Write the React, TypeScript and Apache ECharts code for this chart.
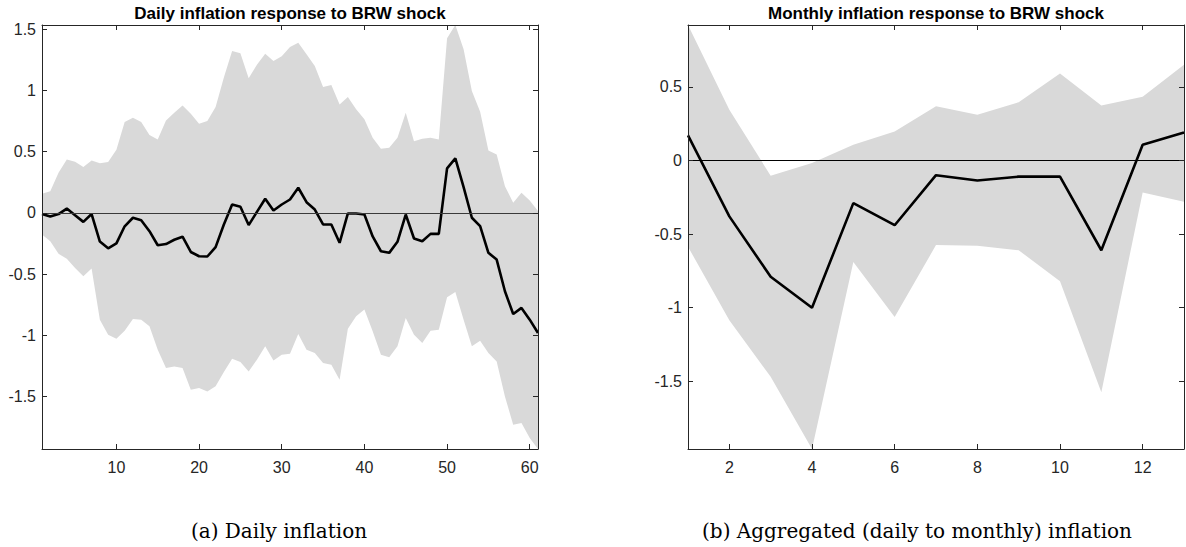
import { useEffect, useRef } from 'react'
import * as echarts from 'echarts'

// ── Daily IRF (horizon 1..61) ─────────────────────────────────────
const dailyDays = Array.from({ length: 61 }, (_, i) => i + 1)
const dailyMid = [
  -0.01, -0.03, -0.01, 0.035, -0.02, -0.074, -0.01, -0.235, -0.29, -0.25,
  -0.11, -0.04, -0.06, -0.15, -0.265, -0.255, -0.22, -0.195, -0.32, -0.355,
  -0.357, -0.28, -0.095, 0.068, 0.049, -0.1, 0.008, 0.115, 0.019, 0.068,
  0.109, 0.205, 0.087, 0.027, -0.095, -0.095, -0.245, -0.005, -0.005, -0.014,
  -0.193, -0.314, -0.327, -0.237, -0.014, -0.21, -0.232, -0.172, -0.172, 0.363,
  0.445, 0.21, -0.04, -0.109, -0.327, -0.382, -0.641, -0.827, -0.777, -0.873,
  -0.982,
]
const dailyUpper = [
  0.155, 0.177, 0.327, 0.436, 0.417, 0.374, 0.428, 0.406, 0.415, 0.515,
  0.742, 0.777, 0.742, 0.636, 0.6, 0.755, 0.818, 0.878, 0.81, 0.728,
  0.75, 0.865, 1.105, 1.323, 1.304, 1.1, 1.21, 1.3, 1.24, 1.28,
  1.356, 1.39, 1.296, 1.2, 1.028, 1.045, 0.886, 0.947, 0.846, 0.764,
  0.614, 0.524, 0.532, 0.614, 0.818, 0.586, 0.606, 0.614, 0.6, 1.427,
  1.535, 1.337, 0.996, 0.827, 0.51, 0.477, 0.218, 0.082, 0.164, 0.1,
  0.014,
]
const dailyLower = [
  -0.177, -0.232, -0.335, -0.376, -0.45, -0.518, -0.455, -0.873, -0.996, -1.028,
  -0.963, -0.867, -0.873, -0.927, -1.118, -1.268, -1.255, -1.268, -1.446, -1.432,
  -1.46, -1.418, -1.3, -1.192, -1.219, -1.296, -1.2, -1.091, -1.206, -1.16,
  -1.151, -0.99, -1.118, -1.146, -1.227, -1.241, -1.364, -0.947, -0.846, -0.791,
  -0.968, -1.16, -1.18, -1.09, -0.86, -0.996, -1.064, -0.963, -0.955, -0.69,
  -0.646, -0.873, -1.09, -1.045, -1.146, -1.214, -1.5, -1.732, -1.718, -1.84,
  -1.93,
]
const dailyXTicks = [10, 20, 30, 40, 50, 60]
const dailyYTicks = [-1.5, -1, -0.5, 0, 0.5, 1, 1.5]

// ── Monthly IRF (horizon 1..13) ───────────────────────────────────
const monthlyMonths = [1, 2, 3, 4, 5, 6, 7, 8, 9, 10, 11, 12, 13]
const monthlyMid = [0.17, -0.38, -0.79, -1.0, -0.29, -0.44, -0.1, -0.136, -0.11, -0.11, -0.61, 0.107, 0.19]
const monthlyUpper = [0.92, 0.345, -0.104, -0.018, 0.107, 0.196, 0.368, 0.31, 0.395, 0.59, 0.373, 0.432, 0.65]
const monthlyLower = [-0.586, -1.086, -1.47, -1.96, -0.69, -1.063, -0.575, -0.58, -0.61, -0.82, -1.575, -0.218, -0.28]
const monthlyXTicks = [2, 4, 6, 8, 10, 12]
const monthlyYTicks = [-1.5, -1, -0.5, 0, 0.5]

const titles = ['Daily inflation response to BRW shock', 'Monthly inflation response to BRW shock']
const captions = ['(a) Daily inflation', '(b) Aggregated (daily to monthly) inflation']

const AXIS_COLOR = '#262626'
const BAND_COLOR = '#d9d9d9'
const SANS = 'Liberation Sans, Arial, sans-serif'
const SERIF = 'DejaVu Serif, serif'

const pairs = (xs: number[], ys: number[]) => xs.map((x, i) => [x, ys[i]])

function axis(gridIndex: number, position: string, min: number, max: number, ticks: number[], labels: boolean) {
  return {
    type: 'value', gridIndex, position, min, max, z: 10,
    axisLine:  { show: true, onZero: false, lineStyle: { color: AXIS_COLOR, width: 1 } },
    axisTick:  { show: true, inside: true, length: 5, customValues: ticks, lineStyle: { color: AXIS_COLOR } },
    axisLabel: {
      show: labels, customValues: ticks,
      color: AXIS_COLOR, fontSize: 16, fontFamily: SANS,
      margin: position === 'bottom' ? 10 : 6,
    },
    splitLine: { show: false },
  }
}

// confidence band: one polygon, upper edge forward then lower edge back
function bandSeries(i: number, xs: number[], lo: number[], hi: number[]) {
  const ax = i * 2
  const outline = [...pairs(xs, hi), ...pairs(xs, lo).reverse()]
  return {
    type: 'custom', xAxisIndex: ax, yAxisIndex: ax, z: 1, silent: true,
    data: [[xs[0], lo[0]]],
    renderItem: (_params: any, api: any) => ({
      type: 'polygon',
      shape: { points: outline.map((p) => api.coord(p)) },
      style: { fill: BAND_COLOR },
    }),
  }
}

function panelSeries(i: number, xs: number[], mid: number[], lo: number[], hi: number[], zeroColor: string) {
  const ax = i * 2
  return [
    bandSeries(i, xs, lo, hi),
    {
      type: 'line', xAxisIndex: ax, yAxisIndex: ax, z: 4,
      data: pairs(xs, mid), symbol: 'none',
      lineStyle: { color: '#000', width: 2.6 },
      markLine: {
        silent: true, symbol: ['none', 'none'], label: { show: false },
        lineStyle: { color: zeroColor, width: 1, type: 'solid' },
        data: [{ yAxis: 0 }],
      },
    },
  ]
}

function buildOption(): echarts.EChartsOption {
  const dMin = -1.93, dMax = 1.535
  const mMin = -1.96, mMax = 0.92
  return {
    animation: false,
    backgroundColor: '#fff',
    grid: [
      { left: 42, top: 25, width: 496, height: 424 },
      { left: 688, top: 25, width: 496, height: 424 },
    ],
    xAxis: [
      axis(0, 'bottom', 1, 61, dailyXTicks, true),
      axis(0, 'top', 1, 61, dailyXTicks, false),
      axis(1, 'bottom', 1, 13, monthlyXTicks, true),
      axis(1, 'top', 1, 13, monthlyXTicks, false),
    ],
    yAxis: [
      axis(0, 'left', dMin, dMax, dailyYTicks, true),
      axis(0, 'right', dMin, dMax, dailyYTicks, false),
      axis(1, 'left', mMin, mMax, monthlyYTicks, true),
      axis(1, 'right', mMin, mMax, monthlyYTicks, false),
    ],
    graphic: [
      { type: 'text', x: 290, y: 13, style: { text: titles[0], font: `bold 17px ${SANS}`, fill: '#000', align: 'center', verticalAlign: 'middle' } },
      { type: 'text', x: 936, y: 13, style: { text: titles[1], font: `bold 17px ${SANS}`, fill: '#000', align: 'center', verticalAlign: 'middle' } },
      { type: 'text', x: 279, y: 531, style: { text: captions[0], font: `20px ${SERIF}`, fill: '#000', align: 'center', verticalAlign: 'middle' } },
      { type: 'text', x: 917, y: 531, style: { text: captions[1], font: `20px ${SERIF}`, fill: '#000', align: 'center', verticalAlign: 'middle' } },
    ],
    series: [
      ...panelSeries(0, dailyDays, dailyMid, dailyLower, dailyUpper, '#3a3a3a'),
      ...panelSeries(1, monthlyMonths, monthlyMid, monthlyLower, monthlyUpper, '#000'),
    ],
  } as echarts.EChartsOption
}

export default function App() {
  const ref = useRef<HTMLDivElement>(null)

  useEffect(() => {
    document.body.style.margin = '0'
    if (!ref.current) return
    const chart = echarts.init(ref.current, undefined, { renderer: 'svg' })
    chart.setOption(buildOption())
    return () => chart.dispose()
  }, [])

  return <div ref={ref} style={{ width: 1186, height: 547 }} />
}
